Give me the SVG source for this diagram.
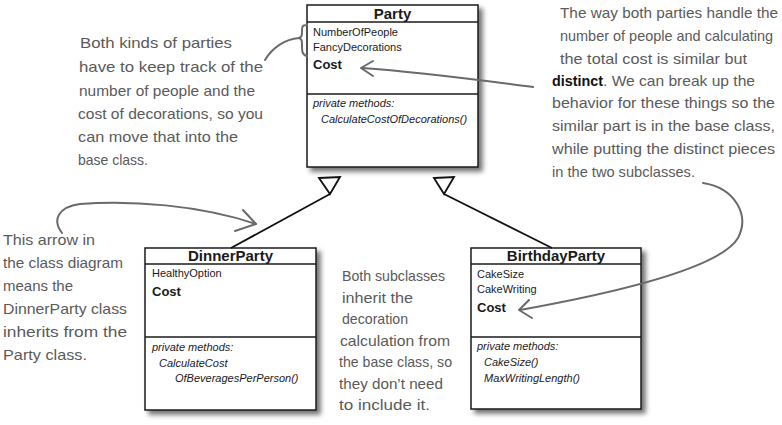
<svg xmlns="http://www.w3.org/2000/svg" width="782" height="425" viewBox="0 0 782 425">
<defs>
<filter id="sh" x="-10%" y="-10%" width="125%" height="125%">
<feDropShadow dx="4" dy="4" stdDeviation="2.5" flood-color="#000" flood-opacity="0.55"/>
</filter>
</defs>
<style>
.box{fill:#fff;stroke:#1a1a1a;stroke-width:1.5}
.div{stroke:#1a1a1a;stroke-width:1.5}
.title{font-family:"Liberation Sans",Arial,sans-serif;font-weight:bold;font-size:15px;fill:#1a1a1a;text-anchor:middle}
.attr{font-family:"Liberation Sans",Arial,sans-serif;font-size:11px;fill:#1a1a1a}
.cost{font-family:"Liberation Sans",Arial,sans-serif;font-size:13px;font-weight:bold;fill:#1a1a1a}
.meth{font-family:"Liberation Sans",Arial,sans-serif;font-size:11px;font-style:italic;fill:#1a1a1a}
.note{font-family:"Liberation Sans",Arial,sans-serif;font-size:15px;fill:#5a5a5a}
.hand{fill:none;stroke:#6a6a6a;stroke-width:2;stroke-linecap:round;stroke-linejoin:round}
.inh{fill:none;stroke:#111;stroke-width:1.8}
.tri{fill:#fff;stroke:#111;stroke-width:1.8;stroke-linejoin:miter}
</style>

<g id="Party">
<rect class="box" x="307" y="5" width="171" height="162" filter="url(#sh)"/>
<line class="div" x1="307" y1="22" x2="478" y2="22"/>
<line class="div" x1="307" y1="94" x2="478" y2="94"/>
<text class="title" x="392.5" y="19">Party</text>
<text class="attr" x="313" y="36">NumberOfPeople</text>
<text class="attr" x="313" y="51">FancyDecorations</text>
<text class="cost" x="313" y="69">Cost</text>
<text class="meth" x="313" y="107">private methods:</text>
<text class="meth" x="321" y="123">CalculateCostOfDecorations()</text>
</g>

<g id="DinnerParty">
<rect class="box" x="145" y="248" width="171" height="162" filter="url(#sh)"/>
<line class="div" x1="145" y1="264" x2="316" y2="264"/>
<line class="div" x1="145" y1="337" x2="316" y2="337"/>
<text class="title" x="230.5" y="261">DinnerParty</text>
<text class="attr" x="152" y="277">HealthyOption</text>
<text class="cost" x="152" y="296">Cost</text>
<text class="meth" x="152" y="351">private methods:</text>
<text class="meth" x="159" y="367">CalculateCost</text>
<text class="meth" x="175" y="382">OfBeveragesPerPerson()</text>
</g>

<g id="BirthdayParty">
<rect class="box" x="471" y="248" width="170" height="161" filter="url(#sh)"/>
<line class="div" x1="471" y1="264" x2="641" y2="264"/>
<line class="div" x1="471" y1="337" x2="641" y2="337"/>
<text class="title" x="556" y="261">BirthdayParty</text>
<text class="attr" x="477" y="278">CakeSize</text>
<text class="attr" x="477" y="293">CakeWriting</text>
<text class="cost" x="477" y="312">Cost</text>
<text class="meth" x="477" y="350">private methods:</text>
<text class="meth" x="484" y="366">CakeSize()</text>
<text class="meth" x="484" y="382">MaxWritingLength()</text>
</g>

<g id="connectors">
<line class="inh" x1="330" y1="194" x2="231" y2="248"/>
<polygon class="tri" points="319,178 340,177 330,194"/>
<line class="inh" x1="444" y1="194" x2="552" y2="248"/>
<polygon class="tri" points="434,178 454,177 444,194"/>
</g>

<g id="note-left">
<text class="note" x="80" y="48" textLength="152" lengthAdjust="spacingAndGlyphs">Both kinds of parties</text>
<text class="note" x="79" y="72" textLength="184" lengthAdjust="spacingAndGlyphs">have to keep track of the</text>
<text class="note" x="79" y="96" textLength="176" lengthAdjust="spacingAndGlyphs">number of people and the</text>
<text class="note" x="78" y="119" textLength="185" lengthAdjust="spacingAndGlyphs">cost of decorations, so you</text>
<text class="note" x="78" y="142" textLength="160" lengthAdjust="spacingAndGlyphs">can move that into the</text>
<text class="note" x="78" y="165" textLength="70" lengthAdjust="spacingAndGlyphs">base class.</text>
<path class="hand" d="M265,60 C272,48 285,39 299,38"/>
<path class="hand" stroke-width="1.6" d="M307,25 C302,25 302,27 302,31 C302,35 302,37 299,38 C302,39 302,41 302,45 C302,51 302,55 307,56"/>
</g>

<g id="note-right">
<text class="note" x="560" y="18" textLength="218" lengthAdjust="spacingAndGlyphs">The way both parties handle the</text>
<text class="note" x="560" y="41" textLength="213" lengthAdjust="spacingAndGlyphs">number of people and calculating</text>
<text class="note" x="560" y="64" textLength="187" lengthAdjust="spacingAndGlyphs">the total cost is similar but</text>
<text class="note" x="552" y="86" textLength="51" lengthAdjust="spacingAndGlyphs" style="font-weight:bold;fill:#111">distinct</text>
<text class="note" x="603" y="86" textLength="152" lengthAdjust="spacingAndGlyphs">. We can break up the</text>
<text class="note" x="552" y="108" textLength="223" lengthAdjust="spacingAndGlyphs">behavior for these things so the</text>
<text class="note" x="552" y="131" textLength="223" lengthAdjust="spacingAndGlyphs">similar part is in the base class,</text>
<text class="note" x="552" y="154" textLength="223" lengthAdjust="spacingAndGlyphs">while putting the distinct pieces</text>
<text class="note" x="552" y="177" textLength="143" lengthAdjust="spacingAndGlyphs">in the two subclasses.</text>
<path class="hand" d="M533,87 C480,80 420,72 362,68"/>
<path class="hand" d="M373,61 L361,68 L373,76"/>
<path class="hand" d="M703,183 C735,188 750,215 738,238 C720,268 620,292 520,310"/>
<path class="hand" d="M529,300 L519,310 L532,318"/>
</g>

<g id="note-arrow">
<text class="note" x="3" y="245" textLength="92" lengthAdjust="spacingAndGlyphs">This arrow in</text>
<text class="note" x="3" y="268" textLength="120" lengthAdjust="spacingAndGlyphs">the class diagram</text>
<text class="note" x="3" y="291" textLength="70" lengthAdjust="spacingAndGlyphs">means the</text>
<text class="note" x="3" y="314" textLength="124" lengthAdjust="spacingAndGlyphs">DinnerParty class</text>
<text class="note" x="3" y="337" textLength="124" lengthAdjust="spacingAndGlyphs">inherits from the</text>
<text class="note" x="3" y="360" textLength="84" lengthAdjust="spacingAndGlyphs">Party class.</text>
<path class="hand" d="M62,233 C52,220 58,207 80,204 C130,200 200,205 256,224"/>
<path class="hand" d="M243,210 L256,224 L235,231"/>
</g>

<g id="note-middle">
<text class="note" x="342" y="281" textLength="103" lengthAdjust="spacingAndGlyphs">Both subclasses</text>
<text class="note" x="342" y="303" textLength="71" lengthAdjust="spacingAndGlyphs">inherit the</text>
<text class="note" x="342" y="324" textLength="66" lengthAdjust="spacingAndGlyphs">decoration</text>
<text class="note" x="340" y="346" textLength="110" lengthAdjust="spacingAndGlyphs">calculation from</text>
<text class="note" x="339" y="367" textLength="113" lengthAdjust="spacingAndGlyphs">the base class, so</text>
<text class="note" x="339" y="389" textLength="104" lengthAdjust="spacingAndGlyphs">they don’t need</text>
<text class="note" x="339" y="410" textLength="91" lengthAdjust="spacingAndGlyphs">to include it.</text>
</g>
</svg>
